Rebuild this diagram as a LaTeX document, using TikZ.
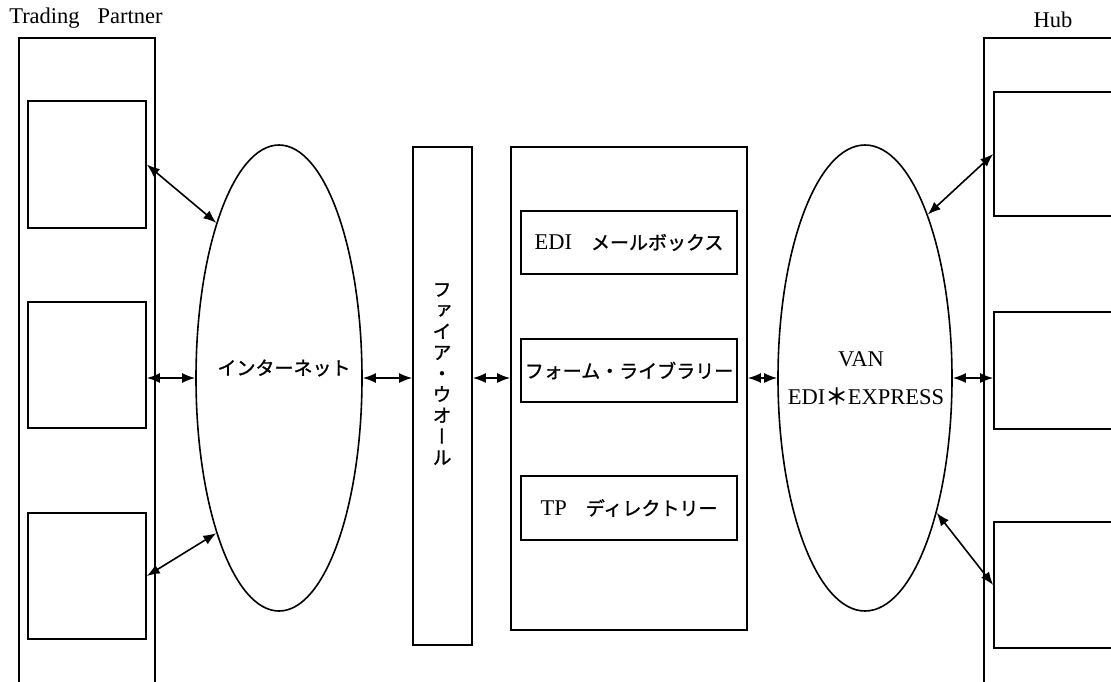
\documentclass[tikz,border=0pt]{standalone}
\usepackage{fontspec}
\setmainfont{Liberation Serif}
\newfontfamily\jp[FakeBold=1.2]{Noto Sans CJK JP}
\newfontfamily\jpv[RawFeature={+vert},FakeBold=1.2]{Noto Sans CJK JP}
\usetikzlibrary{shapes.geometric,arrows.meta}
\newcommand{\jpsize}{\fontsize{19}{21}\selectfont}
% box by its corners: name, x1, y1, x2, y2, text
\newcommand{\cornerbox}[6]{\node[frame, minimum width={#4-#2}, minimum height={#5-#3}] (#1) at ({(#2+#4)/2},{(#3+#5)/2}) {#6};}
\tikzset{
  frame/.style={draw, line width=1.6pt, inner sep=0pt},
  cloud/.style={ellipse, draw, line width=1.6pt, inner sep=0pt},
  link/.style={{Latex[length=13pt,width=10pt]}-{Latex[length=13pt,width=10pt]}, line width=1.6pt},
}

\begin{document}
\begin{tikzpicture}[x=1pt, y=-1pt, font=\fontsize{22.5}{26}\selectfont]
\useasboundingbox (0,0) rectangle (1111,681);
\clip (0,0) rectangle (1111,681);

% columns at both ends
\draw[line width=1.6pt] (19,690) |- (155,38) -- (155,690);
\draw[line width=1.6pt] (984,690) |- (1130,38);
\node (tplabel) at (86,18) {Trading\hspace{0.8em}Partner};
\node (hublabel) at (1053,20) {Hub};

\cornerbox{tp1}{28}{101}{146}{228}{}
\cornerbox{tp2}{28}{302}{146}{428}{}
\cornerbox{tp3}{28}{513}{146}{639}{}
\cornerbox{hub1}{994}{92}{1130}{216}{}
\cornerbox{hub2}{994}{312}{1130}{429}{}
\cornerbox{hub3}{994}{522}{1130}{648}{}

% internet and VAN
\node[cloud, minimum width=166pt, minimum height=466pt] (inet) at (279,378) {};
\node[font=\jp\jpsize] (inettext) at (284,368) {インターネット};
\node[cloud, minimum width=174pt, minimum height=466pt] (van) at (865,378) {};
\node (vantext) at (861,359) {VAN};
\node (exprtext) at (866,396) {EDI{\jp＊}EXPRESS};

% firewall
\cornerbox{fw}{413}{147}{472}{645}{}
\node[font=\jpv\jpsize, align=center, inner sep=0pt] (fwtext) at (442,374)
  {フ\\ァ\\イ\\ア\\・\\ウ\\オ\\ー\\ル};

% server and its parts
\cornerbox{core}{511}{147}{747}{630}{}
\cornerbox{mailbox}{521}{211}{737}{274}{EDI{\jp\jpsize 　メールボックス}}
\cornerbox{formlib}{521}{339}{737}{402}{\jp\jpsize フォーム・ライブラリー}
\cornerbox{tpdir}{521}{476}{737}{540}{TP{\jp\jpsize 　ディレクトリー}}

% links
\draw[link] (tp1.east) -- (inet.112);
\draw[link] (inet.west -| tp2.east) -- (inet.west);
\draw[link] (tp3.east) -- (inet.-112);
\draw[link] (inet.east) -- (inet.east -| fw.west);
\draw[link] (inet.east -| fw.east) -- (inet.east -| core.west);
\draw[link] (van.west -| core.east) -- (van.west);
\draw[link] (van.east) -- (van.east -| hub2.west);
\draw[link] (van.69) -- (hub1.west);
\draw[link] (van.-62) -- (hub3.west);
\end{tikzpicture}
\end{document}
